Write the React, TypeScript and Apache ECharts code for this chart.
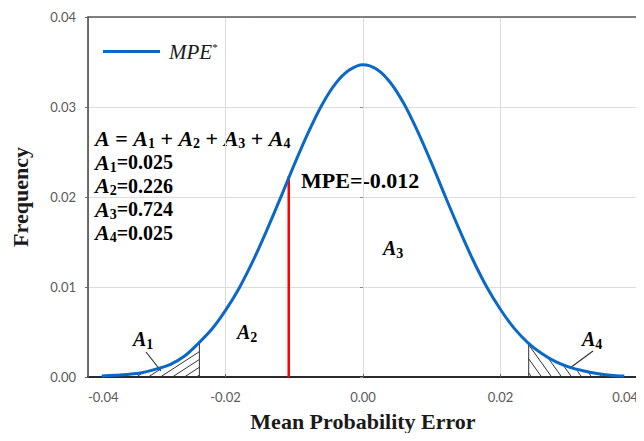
import React, { useEffect, useRef } from 'react';
import * as echarts from 'echarts';

// Curve: mean probability error vs frequency
const mpeValues = [
  -0.038, -0.036, -0.034, -0.032, -0.03, -0.028, -0.026, -0.024, -0.022, -0.02,
  -0.018, -0.016, -0.014, -0.012, -0.01, -0.008, -0.006, -0.004, -0.002, 0,
  0.002, 0.004, 0.006, 0.008, 0.01, 0.012, 0.014, 0.016, 0.018, 0.02,
  0.022, 0.024, 0.026, 0.028, 0.03, 0.032, 0.034, 0.036, 0.038,
];
const frequency = [
  0.0001, 0.0002, 0.0003, 0.0005, 0.0009, 0.0014, 0.0023, 0.0037, 0.0053, 0.0074,
  0.0099, 0.0129, 0.0163, 0.0199, 0.0236, 0.0271, 0.0302, 0.0326, 0.0341, 0.0347,
  0.0342, 0.0327, 0.0303, 0.0272, 0.0237, 0.02, 0.0164, 0.013, 0.01, 0.0075,
  0.0054, 0.0038, 0.0026, 0.0017, 0.0011, 0.0007, 0.0004, 0.0002, 0.0001,
];
// red MPE marker line
const mpeMarkX = -0.0108;
const mpeMarkTop = 0.0223;
// hatched tail regions [from, to]
const tailRegions = [
  [-0.038, -0.0238],
  [0.0241, 0.038],
];
const areaNames = ['1', '2', '3', '4'];
const areaValues = ['0.025', '0.226', '0.724', '0.025'];
const mpeLabel = 'MPE=-0.012';
const xAxisTitle = 'Mean Probability Error';
const yAxisTitle = 'Frequency';

const hatchStyles = [
  { spacing: 12, slope: 0.65, dir: 1 },
  { spacing: 10, slope: 1.4, dir: -1 },
];

const SERIF = '"Liberation Serif", "Times New Roman", serif';
const SANS = 'Lato, "Liberation Sans", sans-serif';

function renderHatch(params: any, api: any) {
  const idx = params.dataIndex;
  const a = api.value(0);
  const b = api.value(1);
  const hs = hatchStyles[idx];
  const pts = mpeValues.map((x, i) => api.coord([x, frequency[i]]));
  const base = api.coord([0, 0])[1];
  const pa = api.coord([a, 0])[0];
  const pb = api.coord([b, 0])[0];
  const H = (px: number) => {
    for (let i = 0; i < pts.length - 1; i++) {
      const [x0, y0] = pts[i];
      const [x1, y1] = pts[i + 1];
      if (px >= x0 && px <= x1) {
        const t = (px - x0) / (x1 - x0);
        return base - (y0 + t * (y1 - y0));
      }
    }
    return 0;
  };
  const children: any[] = [];
  const boundary = hs.dir === 1 ? pb : pa;
  children.push({
    type: 'line',
    shape: { x1: boundary, y1: base, x2: boundary, y2: base - H(boundary) },
    style: { stroke: '#333', lineWidth: 1 },
  });
  let maxH = 0;
  for (let x = pa; x <= pb; x += 1) maxH = Math.max(maxH, H(x));
  const lo = hs.dir === 1 ? pa - 2 : pa;
  const hi = hs.dir === 1 ? pb : pb + maxH / hs.slope + 2;
  const anchor = hs.dir === 1 ? pb - 3 : pa + 3;
  const kStart = Math.floor((lo - anchor) / hs.spacing);
  const kEnd = Math.ceil((hi - anchor) / hs.spacing);
  function pushSeg(xs: number, xe: number, xc: number) {
    if (xe - xs < 0.5) return;
    const hsVal = Math.max(0, hs.slope * hs.dir * (xs - xc));
    const heVal = Math.max(0, hs.slope * hs.dir * (xe - xc));
    children.push({
      type: 'line',
      shape: { x1: xs, y1: base - hsVal, x2: xe, y2: base - heVal },
      style: { stroke: '#333', lineWidth: 1 },
    });
  }
  for (let k = kStart; k <= kEnd; k++) {
    const xc = anchor + k * hs.spacing;
    let runStart: number | null = null;
    let last = 0;
    const step = 0.25;
    for (let x = pa; x <= pb + 0.001; x += step) {
      const h = hs.slope * hs.dir * (x - xc);
      const inside = h >= -0.01 && h <= H(x);
      if (inside && runStart === null) runStart = x;
      if (!inside && runStart !== null) {
        pushSeg(runStart, last, xc);
        runStart = null;
      }
      last = x;
    }
    if (runStart !== null) pushSeg(runStart, last, xc);
  }
  return { type: 'group', children };
}

const mathRich = {
  m: { fontFamily: SERIF, fontStyle: 'italic', fontWeight: 'bold', fontSize: 22, color: '#1a1a1a' },
  o: { fontFamily: SERIF, fontWeight: 'bold', fontSize: 22, color: '#1a1a1a' },
  s: { fontFamily: SERIF, fontWeight: 'bold', fontSize: 14, color: '#1a1a1a', padding: [10, 0, 0, 0] },
  v: { fontFamily: SERIF, fontWeight: 'bold', fontSize: 20, color: '#1a1a1a' },
  i: { fontFamily: SERIF, fontStyle: 'italic', fontWeight: 'bold', fontSize: 20, color: '#1a1a1a' },
};

function textEl(x: number, y: number, text: string, extra: any = {}) {
  return {
    type: 'text',
    x,
    y,
    silent: true,
    style: {
      text,
      rich: mathRich,
      verticalAlign: 'middle',
      align: 'left',
      ...extra,
    },
  };
}

export default function App() {
  const ref = useRef<HTMLDivElement>(null);
  useEffect(() => {
    if (!ref.current) return;
    const chart = echarts.init(ref.current, null, { renderer: 'svg' });
    const curve = mpeValues.map((x, i) => [x, frequency[i]]);
    const formula =
      '{m|A}{o| = }{m|A}{s|1}{o| + }{m|A}{s|2}{o| + }{m|A}{s|3}{o| + }{m|A}{s|4}';
    const areaTexts = areaNames.map((n, i) =>
      textEl(95, 162 + i * 23.5, `{m|A}{s|${n}}{v|=${areaValues[i]}}`)
    );
    const titleStyle = { fontFamily: SERIF, fontWeight: 'bold', fontSize: 22, fill: '#1a1a1a' };
    const option: any = {
      animation: false,
      backgroundColor: '#ffffff',
      grid: { left: 88, right: 6, top: 17, bottom: 64, containLabel: false, outerBoundsMode: 'none' },
      legend: {
        data: ['MPE*'],
        left: 98,
        top: 36,
        icon: 'rect',
        itemWidth: 57,
        itemHeight: 3,
        formatter: () => '{a|MPE}{b|*}',
        textStyle: {
          padding: [0, 0, 0, 4],
          rich: {
            a: { fontFamily: SERIF, fontStyle: 'italic', fontSize: 21, color: '#1a1a1a' },
            b: { fontFamily: SERIF, fontSize: 11, color: '#1a1a1a', padding: [0, 0, 10, 0] },
          },
        },
      },
      xAxis: [
        {
          type: 'value',
          min: -0.04,
          max: 0.04,
          interval: 0.02,
          axisLine: { show: true, onZero: false, lineStyle: { color: '#2b2b2b', width: 2 } },
          axisTick: { show: true, inside: true, length: 3, lineStyle: { color: '#666' } },
          axisLabel: {
            margin: 13,
            fontFamily: SANS,
            fontSize: 13,
            color: '#595959',
            formatter: (v: number) => v.toFixed(2),
            alignMinLabel: 'left',
            alignMaxLabel: 'right',
          },
          splitLine: { show: true, lineStyle: { color: '#dcdcdc', width: 1 } },
        },
        {
          type: 'value',
          position: 'top',
          min: -0.04,
          max: 0.04,
          interval: 0.02,
          axisLine: { show: true, onZero: false, lineStyle: { color: '#595959', width: 1.5 } },
          axisTick: { show: false },
          axisLabel: { show: false },
          splitLine: { show: false },
        },
      ],
      yAxis: [
        {
          type: 'value',
          min: 0,
          max: 0.04,
          interval: 0.01,
          axisLine: { show: true, onZero: false, lineStyle: { color: '#404040', width: 1.5 } },
          axisTick: { show: true, length: 3, lineStyle: { color: '#666' } },
          axisLabel: {
            margin: 12,
            fontFamily: SANS,
            fontSize: 13,
            color: '#595959',
            formatter: (v: number) => v.toFixed(2),
          },
          splitLine: { show: true, lineStyle: { color: '#dcdcdc', width: 1 } },
        },
        {
          type: 'value',
          position: 'right',
          min: 0,
          max: 0.04,
          interval: 0.01,
          axisLine: { show: false },
          axisTick: { show: true, inside: true, length: 3, lineStyle: { color: '#888' } },
          axisLabel: { show: false },
          splitLine: { show: false },
        },
      ],
      series: [
        {
          type: 'custom',
          name: 'tails',
          renderItem: renderHatch,
          data: tailRegions,
          silent: true,
          z: 1,
        },
        {
          type: 'line',
          name: 'MPE mark',
          data: [
            [mpeMarkX, 0],
            [mpeMarkX, mpeMarkTop],
          ],
          symbol: 'none',
          lineStyle: { color: '#ff0000', width: 2.5 },
          silent: true,
          z: 2,
        },
        {
          type: 'line',
          name: 'MPE*',
          data: curve,
          symbol: 'none',
          smooth: 0.3,
          lineStyle: { color: '#0a68c8', width: 3 },
          itemStyle: { color: '#0a68c8' },
          silent: true,
          z: 3,
        },
      ],
      graphic: [
        {
          type: 'text',
          x: 363,
          y: 421,
          silent: true,
          style: { text: xAxisTitle, align: 'center', verticalAlign: 'middle', ...titleStyle },
        },
        {
          type: 'text',
          x: 20,
          y: 197,
          rotation: Math.PI / 2,
          silent: true,
          style: { text: yAxisTitle, align: 'center', verticalAlign: 'middle', ...titleStyle },
        },
        textEl(95, 138, formula),
        ...areaTexts,
        textEl(301, 180, `{v|${mpeLabel}}`, { rich: { v: { ...mathRich.v, fontSize: 22 } } }),
        textEl(133, 339, '{i|A}{s|1}'),
        textEl(237, 332, '{i|A}{s|2}'),
        textEl(383, 248, '{i|A}{s|3}'),
        textEl(582, 339, '{i|A}{s|4}'),
        {
          type: 'line',
          silent: true,
          shape: { x1: 146, y1: 352, x2: 161, y2: 371 },
          style: { stroke: '#333', lineWidth: 1.2 },
        },
        {
          type: 'line',
          silent: true,
          shape: { x1: 593, y1: 351, x2: 570, y2: 368 },
          style: { stroke: '#333', lineWidth: 1.2 },
        },
      ],
    };
    chart.setOption(option);
    return () => chart.dispose();
  }, []);
  return <div ref={ref} style={{ width: 644, height: 441, margin: -8 }} />;
}
